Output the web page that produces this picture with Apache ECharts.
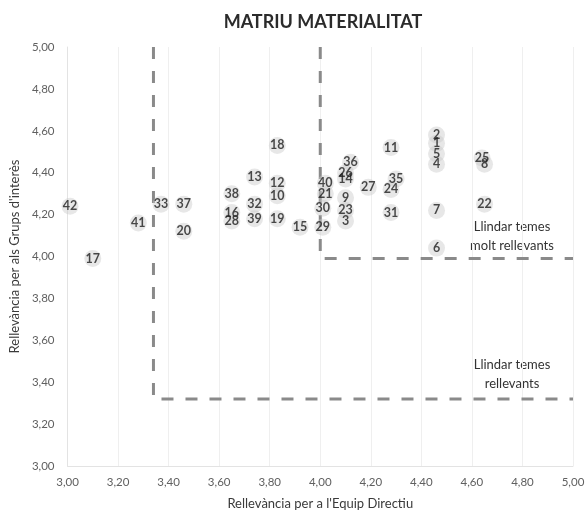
<!DOCTYPE html>
<html>
<head>
<meta charset="utf-8">
<script src="https://cdn.jsdelivr.net/npm/echarts@6/dist/echarts.min.js"></script>
<style>
  html, body { margin: 0; padding: 0; background: #fff; }
  #chart { width: 588px; height: 521px; }
</style>
</head>
<body>
<div id="chart"></div>
<script>
// topic ids and their scores
const topicIds = [1, 2, 3, 4, 5, 6, 7, 8, 9, 10, 11, 12, 13, 14, 15, 16, 17, 18, 19, 20, 21,
  22, 23, 24, 25, 26, 27, 28, 29, 30, 31, 32, 33, 35, 36, 37, 38, 39, 40, 41, 42]
const equipDirectiu = [4.46, 4.46, 4.10, 4.46, 4.46, 4.46, 4.46, 4.65, 4.10, 3.83, 4.28, 3.83, 3.74, 4.10, 3.92, 3.65, 3.10, 3.83, 3.83, 3.46, 4.02,
  4.65, 4.10, 4.28, 4.64, 4.10, 4.19, 3.65, 4.01, 4.01, 4.28, 3.74, 3.37, 4.30, 4.12, 3.46, 3.65, 3.74, 4.02, 3.28, 3.01]
const grupsInteres = [4.54, 4.58, 4.17, 4.44, 4.49, 4.04, 4.22, 4.44, 4.28, 4.29, 4.52, 4.35, 4.38, 4.37, 4.14, 4.21, 3.99, 4.53, 4.18, 4.12, 4.30,
  4.25, 4.22, 4.32, 4.47, 4.40, 4.33, 4.17, 4.14, 4.23, 4.21, 4.25, 4.25, 4.37, 4.45, 4.25, 4.30, 4.18, 4.35, 4.16, 4.24]

// threshold lines
const llindarRellevants = [[3.34, 5.00], [3.34, 3.32], [5.00, 3.32]]
const llindarMoltRellevants = [[4.00, 5.00], [4.00, 3.99], [5.00, 3.99]]

const axisTicks = ['3,00', '3,20', '3,40', '3,60', '3,80', '4,00', '4,20', '4,40', '4,60', '4,80', '5,00']

const font = 'Lato, "Open Sans", sans-serif'
const fmt = v => axisTicks[Math.round((v - 3) / 0.2)] || v.toFixed(2).replace('.', ',')

const points = topicIds.map((id, i) => ({ value: [equipDirectiu[i], grupsInteres[i]], name: String(id) }))

const chart = echarts.init(document.getElementById('chart'))

const dashLine = {
  type: 'line',
  symbol: 'none',
  silent: true,
  lineStyle: { color: '#8a8a8a', width: 3, type: [12, 12] },
  z: 1
}

const noteStyle = { align: 'center', verticalAlign: 'middle', fontFamily: font, fontSize: 13, fill: '#333' }

chart.setOption({
  backgroundColor: '#fff',
  animation: false,
  title: {
    text: 'MATRIU MATERIALITAT',
    left: 318,
    textAlign: 'center',
    top: 8,
    textStyle: { fontFamily: font, fontSize: 18, fontWeight: 'bold', color: '#2b2b2b' }
  },
  grid: { left: 63, right: 15, top: 47, bottom: 55 },
  xAxis: {
    type: 'value',
    min: 3, max: 5, interval: 0.2,
    name: "Rellevància per a l'Equip Directiu",
    nameLocation: 'middle',
    nameGap: 31,
    nameTextStyle: { fontFamily: font, fontSize: 13, color: '#3a3a3a' },
    axisLine: { show: true, lineStyle: { color: '#e3e3e3' } },
    axisTick: { show: false },
    axisLabel: { formatter: fmt, fontFamily: font, fontSize: 11.5, color: '#606060', margin: 10 },
    splitLine: { show: true, lineStyle: { color: '#efefef' } }
  },
  yAxis: {
    type: 'value',
    min: 3, max: 5, interval: 0.2,
    name: "Rellevància per als Grups d'interès",
    nameLocation: 'middle',
    nameGap: 44,
    nameTextStyle: { fontFamily: font, fontSize: 13, color: '#3a3a3a' },
    axisLine: { show: true, lineStyle: { color: '#e3e3e3' } },
    axisTick: { show: false },
    axisLabel: { formatter: fmt, fontFamily: font, fontSize: 11.5, color: '#606060', margin: 13 },
    splitLine: { show: false }
  },
  graphic: [
    { type: 'text', x: 512, y: 227, style: Object.assign({ text: 'Llindar temes' }, noteStyle) },
    { type: 'text', x: 512, y: 246, style: Object.assign({ text: 'molt rellevants' }, noteStyle) },
    { type: 'text', x: 512, y: 365, style: Object.assign({ text: 'Llindar temes' }, noteStyle) },
    { type: 'text', x: 512, y: 384, style: Object.assign({ text: 'rellevants' }, noteStyle) }
  ],
  series: [
    Object.assign({ data: llindarRellevants }, dashLine),
    Object.assign({ data: llindarMoltRellevants }, dashLine),
    {
      type: 'scatter',
      data: points,
      symbolSize: 17,
      itemStyle: { color: 'rgba(200, 200, 200, 0.55)' },
      label: {
        show: true,
        position: 'inside',
        formatter: p => p.name,
        fontFamily: font,
        fontSize: 12.5,
        fontWeight: 'bold',
        color: '#1e1e1e'
      },
      z: 3
    }
  ]
})
</script>
</body>
</html>
